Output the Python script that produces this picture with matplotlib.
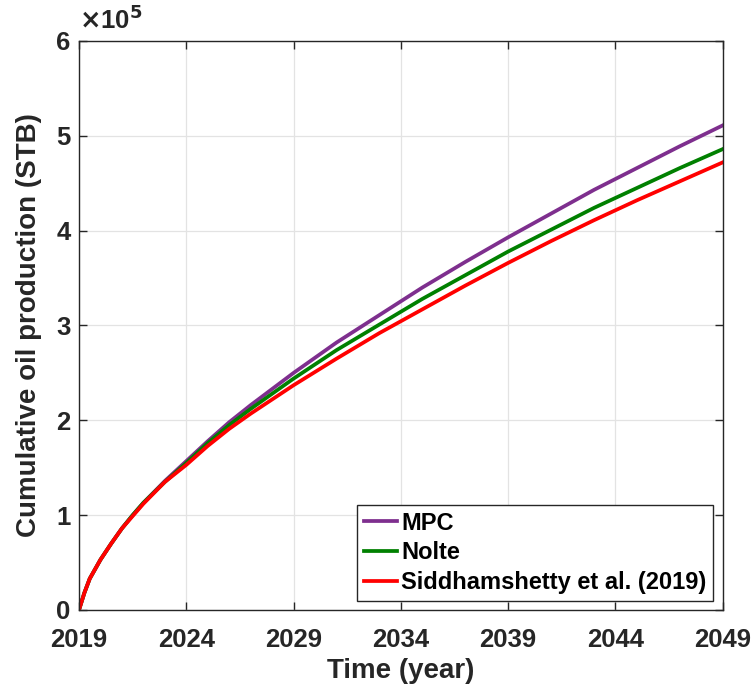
import matplotlib
matplotlib.use("Agg")
import matplotlib.pyplot as plt
import numpy as np

plt.rcParams['font.family'] = ['Liberation Sans', 'DejaVu Sans']
plt.rcParams['font.weight'] = 'bold'

years = [2019, 2019.25, 2019.5, 2020, 2020.5, 2021, 2021.5, 2022, 2023, 2024,
         2025, 2026, 2027, 2029, 2031, 2033, 2035, 2037, 2039, 2041,
         2043, 2045, 2047, 2049]

# cumulative production in units of 1e5 STB
mpc = [0, 0.18, 0.33, 0.53, 0.70, 0.86, 1.00, 1.13, 1.36, 1.57,
       1.78, 1.98, 2.16, 2.50, 2.82, 3.11, 3.40, 3.67, 3.93, 4.18,
       4.43, 4.66, 4.89, 5.11]
nolte = [0, 0.18, 0.33, 0.53, 0.70, 0.86, 1.00, 1.13, 1.35, 1.55,
         1.76, 1.95, 2.12, 2.44, 2.74, 3.01, 3.28, 3.53, 3.78, 4.01,
         4.24, 4.45, 4.66, 4.86]
sidd = [0, 0.18, 0.33, 0.53, 0.70, 0.86, 0.99, 1.12, 1.35, 1.53,
        1.73, 1.91, 2.07, 2.37, 2.65, 2.92, 3.17, 3.42, 3.66, 3.89,
        4.11, 4.32, 4.52, 4.72]

labels = ['MPC', 'Nolte', 'Siddhamshetty et al. (2019)']
colors = ['#7E2F8E', '#008000', '#FF0000']

xticks = [2019, 2024, 2029, 2034, 2039, 2044, 2049]
yticks = [0, 1, 2, 3, 4, 5, 6]

fig = plt.figure(figsize=(7.56, 6.96), dpi=100)
ax = fig.add_axes([0.1045, 0.1236, 0.8515, 0.8175])

for ys, lab, c in zip([mpc, nolte, sidd], labels, colors):
    ax.plot(years, np.array(ys) * 1e5, color=c, lw=2.7, label=lab,
            solid_joinstyle='round')

ax.set_xlim(2019, 2049)
ax.set_ylim(0, 6e5)
ax.set_xticks(xticks)
ax.set_yticks([v * 1e5 for v in yticks])
ax.set_xticklabels([str(v) for v in xticks])
ax.set_yticklabels([str(v) for v in yticks])

ax.grid(True, color='#e3e3e3', lw=0.9)
ax.set_axisbelow(True)
ax.tick_params(direction='in', length=6, width=1, top=True, right=True,
               labelsize=18.5, labelcolor='#262626', colors='#262626')
ax.tick_params(axis='x', pad=13)
ax.tick_params(axis='y', pad=6)
for sp in ax.spines.values():
    sp.set_color('#262626')
    sp.set_linewidth(1.0)

ax.set_xlabel('Time (year)', fontsize=20, fontweight='bold', color='#262626', labelpad=4)
ax.set_ylabel('Cumulative oil production (STB)', fontsize=20, fontweight='bold',
              color='#262626', labelpad=10)

ax.text(0.0, 1.012, r'$\times$10$^{\mathbf{5}}$', transform=ax.transAxes,
        fontsize=18.5, fontweight='bold', color='#262626', ha='left', va='bottom')

leg = ax.legend(loc='lower right', fontsize=17, frameon=True, fancybox=False,
                edgecolor='#262626', framealpha=1, handlelength=1.4,
                handletextpad=0.2, borderpad=0.28, labelspacing=0.28,
                borderaxespad=0.4)
leg.get_frame().set_linewidth(1.0)
for t in leg.get_texts():
    t.set_fontweight('bold')

fig.savefig('out.png', dpi=100)
